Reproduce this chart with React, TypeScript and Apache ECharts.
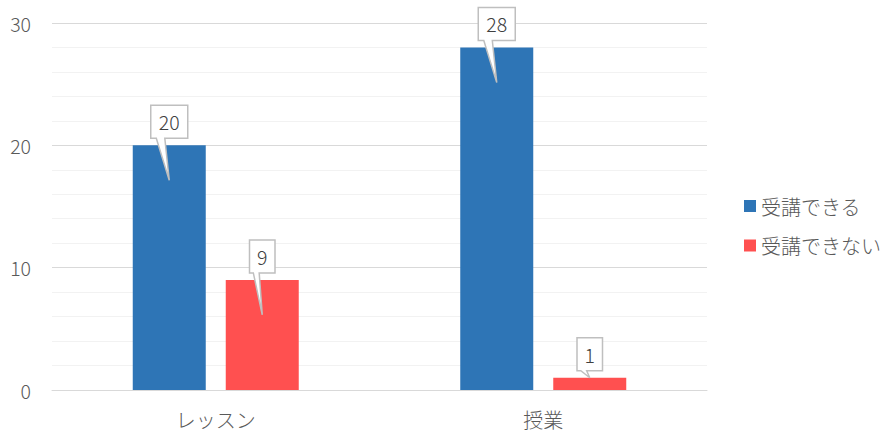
import React, { useEffect, useRef } from "react";
import * as echarts from "echarts";

const categories = ["レッスン", "授業"];
const seriesNames = ["受講できる", "受講できない"];
const canAttend = [20, 28];
const cannotAttend = [9, 1];
const yTicks = { min: 0, max: 30, interval: 10 };

const COLORS = ["#2E75B6", "#FF5050"];
const FONT = "Noto Sans CJK JP";
const BAR_W = 73;
const BAR_GAP = 20;

export default function App() {
  const ref = useRef<HTMLDivElement>(null);
  useEffect(() => {
    document.body.style.margin = "0";
    const chart = echarts.init(ref.current!, null, { renderer: "svg" });
    const allSeries = [canAttend, cannotAttend];
    const calloutData: number[][] = [];
    allSeries.forEach((arr, s) => arr.forEach((v, c) => calloutData.push([c, v, s])));

    const option: any = {
      animation: false,
      textStyle: { fontFamily: FONT },
      grid: { left: 52, right: 187, top: 23, bottom: 44 },
      legend: {
        data: seriesNames,
        orient: "vertical",
        left: 739,
        top: 191,
        itemWidth: 12,
        itemHeight: 12,
        itemGap: 19.5,
        icon: "rect",
        textStyle: { fontSize: 20, color: "#595959", fontFamily: FONT, fontWeight: 300 },
        selectedMode: false,
      },
      xAxis: {
        type: "category",
        data: categories,
        axisLine: { lineStyle: { color: "#D9D9D9", width: 1 } },
        axisTick: { show: false },
        axisLabel: { fontSize: 20, color: "#595959", margin: 19, fontFamily: FONT, fontWeight: 300 },
      },
      yAxis: {
        type: "value",
        min: yTicks.min,
        max: yTicks.max,
        interval: yTicks.interval,
        axisLine: { show: false },
        axisTick: { show: false },
        axisLabel: { fontSize: 19.5, color: "#595959", margin: 21, fontFamily: FONT, fontWeight: 300 },
        splitLine: { lineStyle: { color: "#D9D9D9", width: 1 } },
        minorTick: { show: false, splitNumber: 5 },
        minorSplitLine: { show: true, lineStyle: { color: "#F2F2F2", width: 1 } },
      },
      series: [
        ...allSeries.map((arr, s) => ({
          name: seriesNames[s],
          type: "bar",
          data: arr,
          barWidth: BAR_W,
          barGap: (BAR_GAP / BAR_W) * 100 + "%",
          itemStyle: { color: COLORS[s] },
        })),
        {
          type: "custom",
          name: "callouts",
          data: calloutData,
          z: 10,
          renderItem: (params: any, api: any) => {
            const cat = api.value(0);
            const val = api.value(1);
            const s = api.value(2);
            const top = api.coord([cat, val]);
            const base = api.coord([cat, 0]);
            const offset = (BAR_W + BAR_GAP) / 2;
            const cx = top[0] + (s === 0 ? -offset : offset);
            const barTop = top[1];
            const barH = base[1] - barTop;
            const label = String(val);
            const w = 14 + 11.5 * label.length;
            const h = 33;
            const left = cx - w / 2;
            const right = cx + w / 2;
            const bottom = barTop - 7;
            const boxTop = bottom - h;
            const depth = Math.min(35, Math.max(0, barH - 35));
            const tipY = barTop + depth;
            const baseL = left + w * 0.15;
            const baseR = left + w * 0.38;
            return {
              type: "group",
              children: [
                {
                  type: "polygon",
                  shape: {
                    points: [
                      [left, boxTop],
                      [right, boxTop],
                      [right, bottom],
                      [baseR, bottom],
                      [cx, tipY],
                      [baseL, bottom],
                      [left, bottom],
                    ],
                  },
                  style: { fill: "#FFFFFF", stroke: "#BFBFBF", lineWidth: 1.5 },
                },
                {
                  type: "text",
                  x: cx,
                  y: boxTop + h / 2,
                  style: {
                    text: label,
                    fontSize: 19.5,
                    fontFamily: FONT,
                    fontWeight: 300,
                    fill: "#404040",
                    align: "center",
                    verticalAlign: "middle",
                  },
                },
              ],
            };
          },
        },
      ],
    };
    chart.setOption(option);
    return () => chart.dispose();
  }, []);
  return <div ref={ref} style={{ width: 894, height: 434 }} />;
}
